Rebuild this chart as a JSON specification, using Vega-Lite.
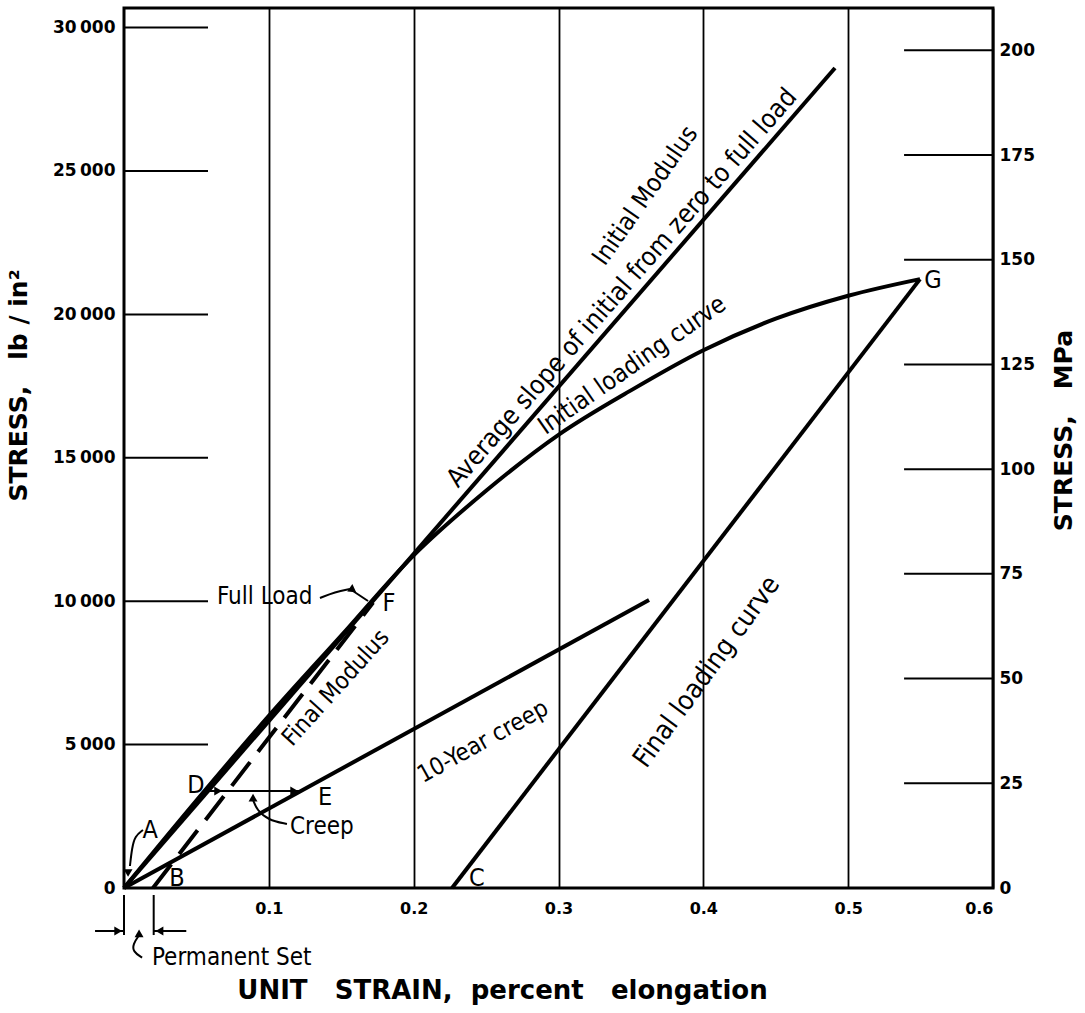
{
  "$schema": "https://vega.github.io/schema/vega-lite/v6.json",
  "width": 869,
  "height": 880,
  "autosize": {"type": "none"},
  "padding": {"left": 124, "top": 8, "right": 92, "bottom": 125},
  "background": "white",
  "config": {
    "font": "DejaVu Sans",
    "view": {"stroke": "black", "strokeWidth": 3},
    "axis": {"labelColor": "black", "titleColor": "black", "labelFontWeight": "bold", "titleFontWeight": "bold"}
  },
  "datasets": {
    "curves": [
      {"curve": "avg", "strain": 0, "stress": 0},
      {"curve": "avg", "strain": 0.4909, "stress": 28590},
      {"curve": "initial", "strain": 0, "stress": 0},
      {"curve": "initial", "strain": 0.05, "stress": 3050},
      {"curve": "initial", "strain": 0.1, "stress": 6000},
      {"curve": "initial", "strain": 0.15, "stress": 8800},
      {"curve": "initial", "strain": 0.2, "stress": 11600},
      {"curve": "initial", "strain": 0.25, "stress": 13850},
      {"curve": "initial", "strain": 0.3, "stress": 15800},
      {"curve": "initial", "strain": 0.35, "stress": 17350},
      {"curve": "initial", "strain": 0.4, "stress": 18750},
      {"curve": "initial", "strain": 0.45, "stress": 19850},
      {"curve": "initial", "strain": 0.5, "stress": 20650},
      {"curve": "initial", "strain": 0.5496, "stress": 21230},
      {"curve": "finalload", "strain": 0.2265, "stress": 0},
      {"curve": "finalload", "strain": 0.5496, "stress": 21230},
      {"curve": "creep", "strain": 0, "stress": 0},
      {"curve": "creep", "strain": 0.3625, "stress": 10040},
      {"curve": "finalmod", "strain": 0.02, "stress": 0},
      {"curve": "finalmod", "strain": 0.172, "stress": 9950}
    ],
    "notes": [
      {"id": "de", "strain": 0.056, "stress": 3380},
      {"id": "de", "strain": 0.121, "stress": 3380},
      {"id": "a", "strain": 0.0131, "stress": 2022},
      {"id": "a", "strain": 0.0076, "stress": 1813},
      {"id": "a", "strain": 0.0055, "stress": 1395},
      {"id": "a", "strain": 0.0041, "stress": 767},
      {"id": "creep", "strain": 0.1125, "stress": 2231},
      {"id": "creep", "strain": 0.0994, "stress": 2371},
      {"id": "creep", "strain": 0.0918, "stress": 2720},
      {"id": "creep", "strain": 0.0891, "stress": 3068},
      {"id": "full", "strain": 0.1353, "stress": 10112},
      {"id": "full", "strain": 0.1457, "stress": 10321},
      {"id": "full", "strain": 0.156, "stress": 10426},
      {"id": "full2", "strain": 0.156, "stress": 10426},
      {"id": "full2", "strain": 0.1685, "stress": 10007},
      {"id": "ps1", "strain": 0, "stress": -244},
      {"id": "ps1", "strain": 0, "stress": -1640},
      {"id": "ps2", "strain": 0.0205, "stress": -244},
      {"id": "ps2", "strain": 0.0205, "stress": -1640},
      {"id": "ps3", "strain": -0.02, "stress": -1499},
      {"id": "ps3", "strain": 0, "stress": -1499},
      {"id": "ps4", "strain": 0.043, "stress": -1499},
      {"id": "ps4", "strain": 0.0205, "stress": -1499},
      {"id": "hook", "strain": 0.0104, "stress": -1650},
      {"id": "hook", "strain": 0.0062, "stress": -1950},
      {"id": "hook", "strain": 0.0062, "stress": -2220},
      {"id": "hook", "strain": 0.0125, "stress": -2430}
    ],
    "heads": [
      {"dir": "right", "strain": 0.065, "stress": 3380},
      {"dir": "right", "strain": 0.1175, "stress": 3380},
      {"dir": "right", "strain": -0.004, "stress": -1499},
      {"dir": "left", "strain": 0.0245, "stress": -1499},
      {"dir": "up", "strain": 0.0891, "stress": 3150},
      {"dir": "up", "strain": 0.0104, "stress": -1580},
      {"dir": "down", "strain": 0.0028, "stress": 523},
      {"dir": "slant", "strain": 0.1581, "stress": 10391}
    ]
  },
  "layer": [
    {
      "layer": [
        {
          "data": {"name": "curves"},
          "transform": [{"filter": "datum.curve != 'finalmod'"}],
          "mark": {"type": "line", "color": "black", "strokeWidth": 4, "interpolate": "monotone"},
          "encoding": {
            "x": {
              "field": "strain", "type": "quantitative",
              "scale": {"domain": [0, 0.6], "nice": false, "zero": false},
              "axis": {
                "values": [0.1, 0.2, 0.3, 0.4, 0.5, 0.6],
                "format": ".1f",
                "grid": true, "gridColor": "black", "gridOpacity": 1, "gridWidth": 1.8,
                "ticks": false, "domain": false,
                "labelFontSize": 16, "labelPadding": 12,
                "title": "UNIT\u00a0\u00a0\u00a0STRAIN,\u00a0\u00a0percent\u00a0\u00a0\u00a0elongation",
                "titleFontSize": 26, "titleX": 378, "titleY": 102, "titleBaseline": "middle", "titleAnchor": "middle"
              }
            },
            "y": {
              "field": "stress", "type": "quantitative",
              "scale": {"domain": [0, 30683], "nice": false, "zero": false},
              "axis": {
                "values": [0, 5000, 10000, 15000, 20000, 25000, 30000],
                "labelExpr": "replace(format(datum.value, ','), ',', '\u2009')",
                "grid": false, "ticks": false, "domain": false,
                "labelFontSize": 17, "labelPadding": 9,
                "title": "STRESS,\u00a0\u00a0\u00a0lb\u00a0/\u00a0in\u00b2",
                "titleFontSize": 25, "titleX": -106, "titleY": 377, "titleBaseline": "middle", "titleAngle": -90
              }
            },
            "detail": {"field": "curve"},
            "order": {"value": null}
          }
        },
        {
          "data": {"name": "curves"},
          "transform": [{"filter": "datum.curve == 'finalmod'"}],
          "mark": {"type": "line", "color": "black", "strokeWidth": 4, "strokeDash": [30, 13]},
          "encoding": {
            "x": {"field": "strain", "type": "quantitative"},
            "y": {"field": "stress", "type": "quantitative"}
          }
        },
        {
          "data": {"name": "notes"},
          "mark": {"type": "line", "color": "black", "strokeWidth": 2, "interpolate": "basis"},
          "encoding": {
            "x": {"field": "strain", "type": "quantitative"},
            "y": {"field": "stress", "type": "quantitative"},
            "detail": {"field": "id"},
            "order": {"value": null}
          }
        },
        {
          "data": {"values": [{"stress": 5000}, {"stress": 10000}, {"stress": 15000}, {"stress": 20000}, {"stress": 25000}, {"stress": 30000}]},
          "mark": {"type": "rule", "color": "black", "strokeWidth": 2},
          "encoding": {
            "x": {"datum": 0, "type": "quantitative"},
            "x2": {"datum": 0.058},
            "y": {"field": "stress", "type": "quantitative"}
          }
        },
        {
          "data": {"name": "heads"},
          "transform": [{"filter": "datum.dir == 'right'"}],
          "mark": {"type": "point", "shape": "triangle-right", "filled": true, "color": "black", "opacity": 1, "size": 80},
          "encoding": {"x": {"field": "strain", "type": "quantitative"}, "y": {"field": "stress", "type": "quantitative"}}
        },
        {
          "data": {"name": "heads"},
          "transform": [{"filter": "datum.dir == 'left'"}],
          "mark": {"type": "point", "shape": "triangle-left", "filled": true, "color": "black", "opacity": 1, "size": 80},
          "encoding": {"x": {"field": "strain", "type": "quantitative"}, "y": {"field": "stress", "type": "quantitative"}}
        },
        {
          "data": {"name": "heads"},
          "transform": [{"filter": "datum.dir == 'up'"}],
          "mark": {"type": "point", "shape": "triangle-up", "filled": true, "color": "black", "opacity": 1, "size": 80},
          "encoding": {"x": {"field": "strain", "type": "quantitative"}, "y": {"field": "stress", "type": "quantitative"}}
        },
        {
          "data": {"name": "heads"},
          "transform": [{"filter": "datum.dir == 'down'"}],
          "mark": {"type": "point", "shape": "triangle-down", "filled": true, "color": "black", "opacity": 1, "size": 80},
          "encoding": {"x": {"field": "strain", "type": "quantitative"}, "y": {"field": "stress", "type": "quantitative"}}
        },
        {
          "data": {"name": "heads"},
          "transform": [{"filter": "datum.dir == 'slant'"}],
          "mark": {"type": "point", "shape": "triangle-right", "angle": 35, "filled": true, "color": "black", "opacity": 1, "size": 80},
          "encoding": {"x": {"field": "strain", "type": "quantitative"}, "y": {"field": "stress", "type": "quantitative"}}
        },
        {
          "data": {"values": [
            {"label": "A", "strain": 0.018, "stress": 2022},
            {"label": "B", "strain": 0.0366, "stress": 349},
            {"label": "C", "strain": 0.2437, "stress": 349},
            {"label": "D", "strain": 0.0497, "stress": 3591},
            {"label": "E", "strain": 0.1388, "stress": 3173},
            {"label": "F", "strain": 0.183, "stress": 9937},
            {"label": "G", "strain": 0.5586, "stress": 21199}
          ]},
          "mark": {"type": "text", "font": "DejaVu Sans Condensed, DejaVu Sans", "fontSize": 25, "align": "center", "baseline": "middle", "color": "black"},
          "encoding": {"x": {"field": "strain", "type": "quantitative"}, "y": {"field": "stress", "type": "quantitative"}, "text": {"field": "label"}}
        },
        {
          "data": {"values": [
            {"label": "Creep", "strain": 0.1146, "stress": 2127},
            {"label": "Full Load", "strain": 0.0642, "stress": 10146},
            {"label": "Permanent Set", "strain": 0.0193, "stress": -2450}
          ]},
          "mark": {"type": "text", "font": "DejaVu Sans Condensed, DejaVu Sans", "fontSize": 24, "align": "left", "baseline": "middle", "color": "black"},
          "encoding": {"x": {"field": "strain", "type": "quantitative"}, "y": {"field": "stress", "type": "quantitative"}, "text": {"field": "label"}}
        },
        {
          "data": {"values": [{"label": "Average slope of initial from zero to full load", "strain": 0.3438, "stress": 20920}]},
          "mark": {"type": "text", "font": "DejaVu Sans Condensed, DejaVu Sans", "fontSize": 26, "align": "center", "baseline": "middle", "angle": -49, "color": "black"},
          "encoding": {"x": {"field": "strain", "type": "quantitative"}, "y": {"field": "stress", "type": "quantitative"}, "text": {"field": "label"}}
        },
        {
          "data": {"values": [{"label": "Initial Modulus", "strain": 0.3598, "stress": 24150}]},
          "mark": {"type": "text", "font": "DejaVu Sans Condensed, DejaVu Sans", "fontSize": 25, "align": "center", "baseline": "middle", "angle": -55, "color": "black"},
          "encoding": {"x": {"field": "strain", "type": "quantitative"}, "y": {"field": "stress", "type": "quantitative"}, "text": {"field": "label"}}
        },
        {
          "data": {"values": [{"label": "Initial  loading  curve", "strain": 0.3507, "stress": 18236}]},
          "mark": {"type": "text", "font": "DejaVu Sans Condensed, DejaVu Sans", "fontSize": 25, "align": "center", "baseline": "middle", "angle": -35, "color": "black"},
          "encoding": {"x": {"field": "strain", "type": "quantitative"}, "y": {"field": "stress", "type": "quantitative"}, "text": {"field": "label"}}
        },
        {
          "data": {"values": [{"label": "Final loading curve", "strain": 0.4025, "stress": 7531}]},
          "mark": {"type": "text", "font": "DejaVu Sans Condensed, DejaVu Sans", "fontSize": 27, "align": "center", "baseline": "middle", "angle": -54, "color": "black"},
          "encoding": {"x": {"field": "strain", "type": "quantitative"}, "y": {"field": "stress", "type": "quantitative"}, "text": {"field": "label"}}
        },
        {
          "data": {"values": [{"label": "10-Year creep", "strain": 0.2479, "stress": 5091}]},
          "mark": {"type": "text", "font": "DejaVu Sans Condensed, DejaVu Sans", "fontSize": 24, "align": "center", "baseline": "middle", "angle": -29, "color": "black"},
          "encoding": {"x": {"field": "strain", "type": "quantitative"}, "y": {"field": "stress", "type": "quantitative"}, "text": {"field": "label"}}
        },
        {
          "data": {"values": [{"label": "Final Modulus", "strain": 0.1464, "stress": 6973}]},
          "mark": {"type": "text", "font": "DejaVu Sans Condensed, DejaVu Sans", "fontSize": 24, "align": "center", "baseline": "middle", "angle": -48, "color": "black"},
          "encoding": {"x": {"field": "strain", "type": "quantitative"}, "y": {"field": "stress", "type": "quantitative"}, "text": {"field": "label"}}
        }
      ]
    },
    {
      "data": {"values": [{"mpa": 0}, {"mpa": 25}, {"mpa": 50}, {"mpa": 75}, {"mpa": 100}, {"mpa": 125}, {"mpa": 150}, {"mpa": 175}, {"mpa": 200}]},
      "transform": [{"filter": "datum.mpa > 0"}],
      "mark": {"type": "rule", "color": "black", "strokeWidth": 2},
      "encoding": {
        "x": {"datum": 0.5386, "type": "quantitative"},
        "x2": {"datum": 0.6},
        "y": {
          "field": "mpa", "type": "quantitative",
          "scale": {"domain": [0, 210.1], "nice": false, "zero": false},
          "axis": {
            "orient": "right",
            "values": [0, 25, 50, 75, 100, 125, 150, 175, 200],
            "grid": false, "ticks": false, "domain": false,
            "labelFontSize": 17, "labelPadding": 6,
            "title": "STRESS,\u00a0\u00a0\u00a0MPa",
            "titleFontSize": 25, "titleX": 70, "titleY": 422, "titleBaseline": "middle", "titleAngle": -90
          }
        }
      }
    }
  ],
  "resolve": {"scale": {"y": "independent"}, "axis": {"y": "independent"}}
}
